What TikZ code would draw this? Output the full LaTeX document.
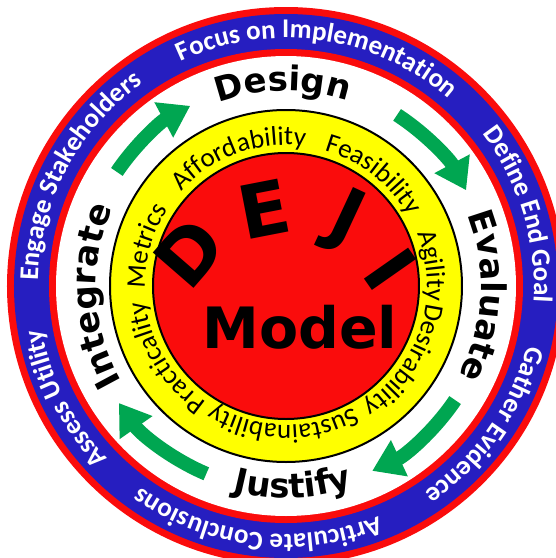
\documentclass[tikz,border=0pt]{standalone}
\usepackage{fontspec}
\usetikzlibrary{arrows.meta,decorations.text}
\newfontfamily\calfont{Carlito}
\newfontfamily\heavyfont{DejaVu Sans}
\newcommand\bluesize{\calfont\bfseries\fontsize{27}{27}\selectfont}
\newcommand\yellowsize{\calfont\fontsize{27}{27}\selectfont}
\newcommand\stagesize{\heavyfont\bfseries\fontsize{34}{34}\selectfont}
\definecolor{dejired}{RGB}{250,12,12}
\definecolor{dejiblue}{RGB}{38,30,192}
\definecolor{dejiyellow}{RGB}{255,255,0}
\definecolor{dejigreen}{RGB}{0,166,81}

\begin{document}
\begin{tikzpicture}[
  x=1pt, y=1pt,
  >={Triangle[length=30pt,width=38pt]},
  ringtext/.style={decorate,decoration={text along path,text align=center,#1}},
  blueword/.style={ringtext={text color=white,text={|\bluesize|#1}}},
  yellowword/.style={ringtext={text={|\yellowsize|#1}}},
  stageword/.style={ringtext={text={|\stagesize|#1}}},
  cyclearrow/.style={->,draw=dejigreen,line width=14pt},
  dejiletter/.style={font=\heavyfont\bfseries\fontsize{74}{74}\selectfont,inner sep=0pt},
  modelword/.style={font=\heavyfont\bfseries\fontsize{57}{57}\selectfont,inner sep=0pt},
  ]
  \useasboundingbox (-286,-272) rectangle (270,286);
  \clip (-286,-272) rectangle (270,286);
  \coordinate (C) at (0,0);
  \coordinate (arc) at (4,-54);

  \fill[dejired] (C) circle[radius=279];
  \fill[dejiblue] (C) circle[radius=272];
  \fill[dejired] (C) circle[radius=237];
  \fill[white] (C) circle[radius=230];
  \filldraw[fill=dejiyellow,line width=2pt] (C) circle[radius=176];
  \filldraw[fill=dejired,line width=2pt] (C) circle[radius=133];

  \path[blueword={Focus on Implementation}] (162:248) arc[start angle=162,end angle=2,radius=248];
  \path[blueword={Define End Goal}] (97:248) arc[start angle=97,end angle=-63,radius=248];
  \path[blueword={Gather Evidence}] (45:248) arc[start angle=45,end angle=-115,radius=248];
  \path[blueword={Articulate Conclusions}] (-17:248) arc[start angle=-17,end angle=-177,radius=248];
  \path[blueword={Assess Utility}] (287:248) arc[start angle=287,end angle=127,radius=248];
  \path[blueword={Engage Stakeholders}] (232:248) arc[start angle=232,end angle=72,radius=248];

  \path[stageword={Design}] (171:195) arc[start angle=171,end angle=11,radius=195];
  \path[stageword={Evaluate}] (77:195) arc[start angle=77,end angle=-83,radius=195];
  \path[stageword={Justify}] (-168:212) arc[start angle=-168,end angle=-8,radius=212];
  \path[stageword={Integrate}] (263:190) arc[start angle=263,end angle=103,radius=190];

  \foreach \s/\e in {146/118, 57/28, -34/-65, -113/-145}
    \draw[cyclearrow] (\s:204) arc[start angle=\s,end angle=\e,radius=204];

  \path[yellowword={Affordability}] (190:141) arc[start angle=190,end angle=30,radius=141];
  \path[yellowword={Feasibility}] (132:141) arc[start angle=132,end angle=-28,radius=141];
  \path[yellowword={Agility}] (88:141) arc[start angle=88,end angle=-72,radius=141];
  \path[yellowword={Desirability}] (48:141) arc[start angle=48,end angle=-112,radius=141];
  \path[yellowword={Sustainability}] (-11:139) arc[start angle=-11,end angle=-171,radius=139];
  \path[yellowword={Practicality}] (291:141) arc[start angle=291,end angle=131,radius=141];
  \path[yellowword={Metrics}] (244:141) arc[start angle=244,end angle=84,radius=141];

  \foreach \l/\a/\r in {D/139/133, E/101/133, J/65/131, I/35/123}
    \node[dejiletter,rotate=\a-90] (\l) at ([shift={(\a:\r)}]arc) {\l};
  \node[modelword] (model) at (14,-41) {Model};
\end{tikzpicture}
\end{document}
